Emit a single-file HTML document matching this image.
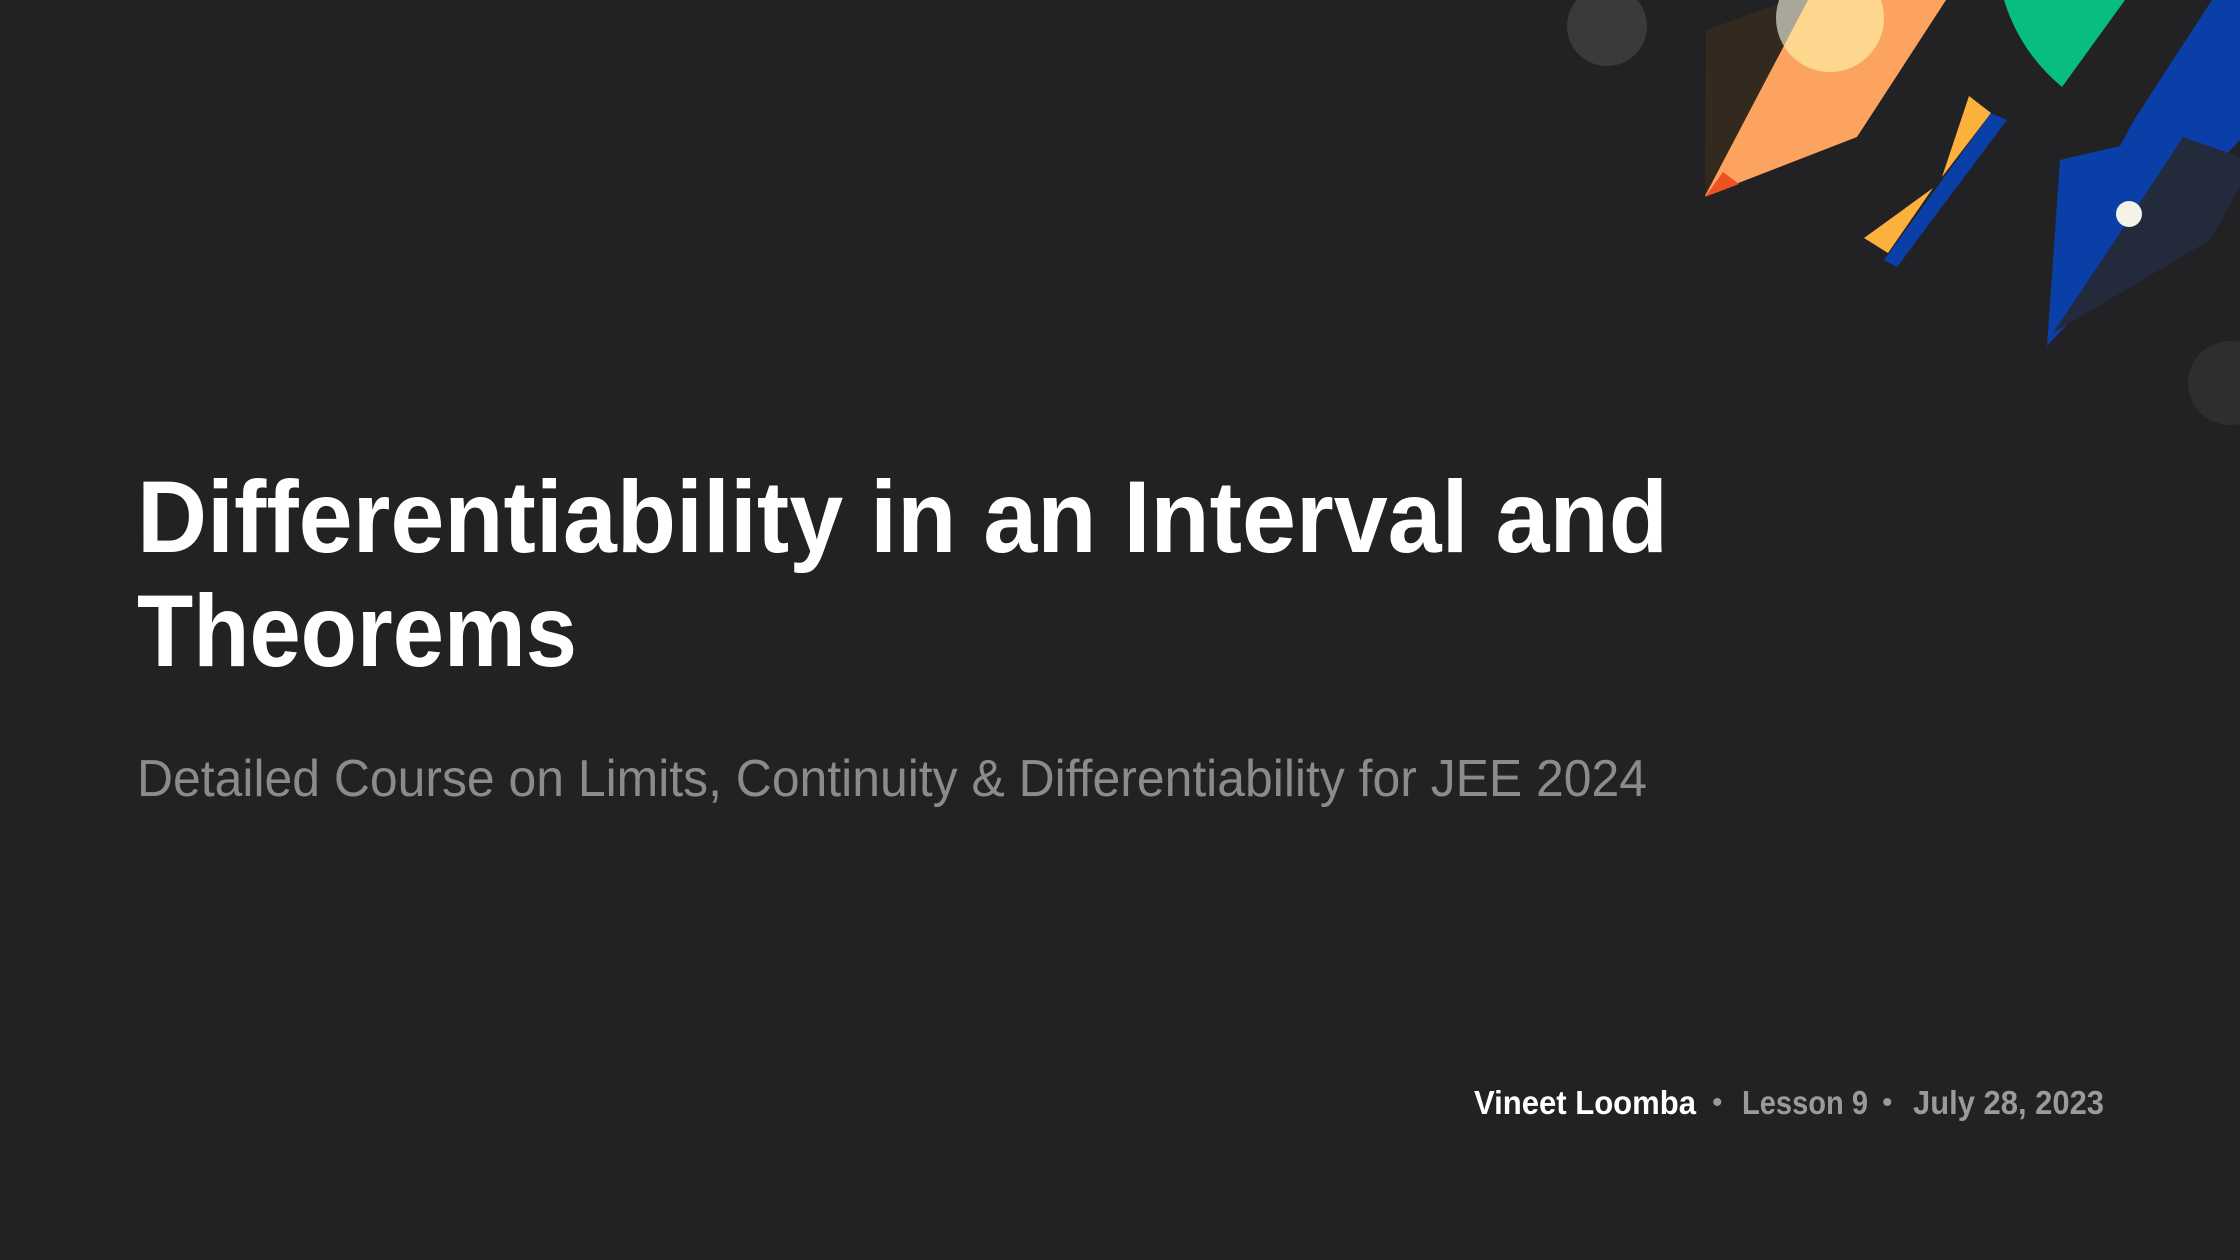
<!DOCTYPE html>
<html><head><meta charset="utf-8"><style>
html,body{margin:0;padding:0;background:#222224;}
svg{display:block}
</style></head><body>
<svg width="2240" height="1260" viewBox="0 0 2240 1260" xmlns="http://www.w3.org/2000/svg">
<defs>
<clipPath id="pc"><polygon points="1808,0 1946,0 1857,137 1705,196"/></clipPath>
</defs>
<rect width="2240" height="1260" fill="#222224"/>
<g>
<circle cx="1607" cy="26" r="40" fill="#3a3a3c"/>
<circle cx="2230" cy="383" r="42" fill="#2e2e30"/>
<polygon points="1706,30 1790,0 1808,0 1790,112 1705,196" fill="#33291f"/>
<circle cx="1830" cy="18" r="54" fill="#a9a79a"/>
<polygon points="1808,0 1946,0 1857,137 1705,196" fill="#fda360"/>
<circle cx="1830" cy="18" r="54" fill="#fdd78e" clip-path="url(#pc)"/>
<polygon points="1723,172 1739,184 1705,197" fill="#ee5122"/>
<path d="M2004,0 L2125,0 L2062,87 Q2020,52 2004,0 Z" fill="#08bd80"/>
<polygon points="1969,96 1991,113 1942,177" fill="#fcb13d"/>
<polygon points="1933,188 1888,253 1864,238" fill="#fcb13d"/>
<polygon points="1991,113 2007,120 1897,267 1884,260" fill="#0a3fa8"/>
<polygon points="2212,0 2240,0 2240,140 2047,346 2060,160 2120,146 2134,120" fill="#0a3fa8"/>
<polygon points="2183,137 2240,157 2240,187 2210,240 2053,333 2120,233" fill="#222a3c"/>
<circle cx="2129" cy="214" r="13" fill="#f5f2e8"/>
</g>
<g font-family="Liberation Sans, sans-serif">
<text x="137" y="552" font-size="102" font-weight="bold" fill="#ffffff" textLength="1531" lengthAdjust="spacingAndGlyphs">Differentiability in an Interval and</text>
<text x="137" y="666" font-size="102" font-weight="bold" fill="#ffffff" textLength="440" lengthAdjust="spacingAndGlyphs">Theorems</text>
<text x="137" y="796" font-size="52" fill="#8b8b8d" textLength="1510" lengthAdjust="spacingAndGlyphs">Detailed Course on Limits, Continuity &amp; Differentiability for JEE 2024</text>
<text x="1474" y="1114" font-size="33" font-weight="bold" fill="#ffffff" textLength="222" lengthAdjust="spacingAndGlyphs">Vineet Loomba</text>
<text x="1712" y="1112" font-size="30" fill="#9a9a9c">•</text>
<text x="1742" y="1114" font-size="33" font-weight="bold" fill="#9a9a9c" textLength="126" lengthAdjust="spacingAndGlyphs">Lesson 9</text>
<text x="1882" y="1112" font-size="30" fill="#9a9a9c">•</text>
<text x="1913" y="1114" font-size="33" font-weight="bold" fill="#9a9a9c" textLength="191" lengthAdjust="spacingAndGlyphs">July 28, 2023</text>
</g>
</svg>
</body></html>
